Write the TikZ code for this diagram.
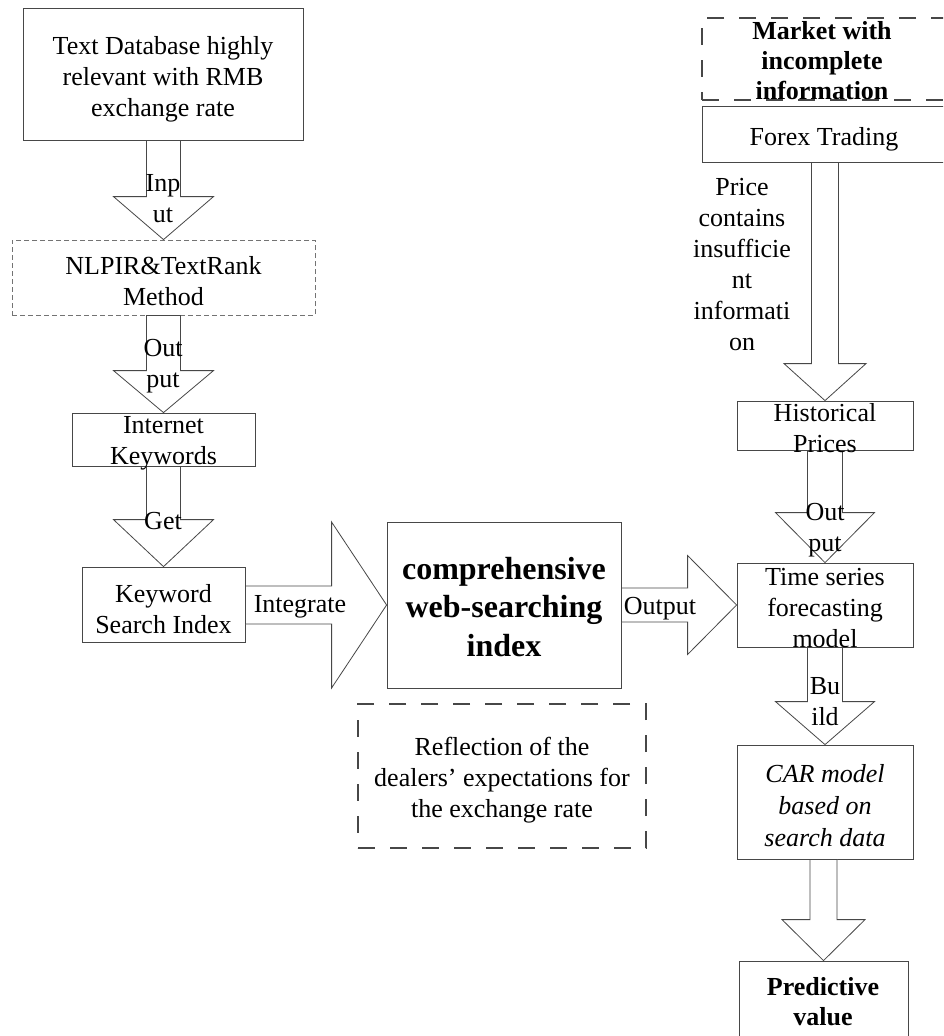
\documentclass[tikz,border=0pt]{standalone}
\usepackage{fontspec}
\setmainfont{Liberation Serif}
\usetikzlibrary{calc}
\tikzset{
  boxn/.style={draw=black!72, line width=0.8pt, inner sep=0pt, rectangle},
  thindash/.style={draw=black!55, line width=0.8pt, dash pattern=on 5pt off 3pt, inner sep=0pt, rectangle},
  thickdash/.style={draw=black!72, line width=2.6pt, dash pattern=on 17pt off 15pt, inner sep=0pt, rectangle},
  txt/.style={align=center, inner sep=0pt, font=\fontsize{26}{31}\selectfont},
  txtb/.style={align=center, inner sep=0pt, font=\fontsize{26}{30}\selectfont\bfseries},
  txtbig/.style={align=center, inner sep=0pt, font=\fontsize{32}{38.5}\selectfont\bfseries},
  txti/.style={align=center, inner sep=0pt, font=\fontsize{26}{32}\selectfont\itshape},
  blk/.style={draw=black!72, line width=0.8pt, fill=white, line join=miter},
}
% down block arrow: #1 source node, #2 target node, #3 shaft half width, #4 head half width, #5 head length
\newcommand\dnarr[5]{%
  \draw[blk] let \p1=(#1.south), \p2=(#2.north) in
    (\x2-#3pt,\y1) -- (\x2-#3pt,\y2+#5pt) -- (\x2-#4pt,\y2+#5pt) -- (\x2,\y2)
    -- (\x2+#4pt,\y2+#5pt) -- (\x2+#3pt,\y2+#5pt) -- (\x2+#3pt,\y1) -- cycle;}
% right block arrow
\newcommand\rtarr[5]{%
  \draw[blk] let \p1=(#1.east), \p2=(#2.west) in
    (\x1,\y2+#3pt) -- (\x2-#5pt,\y2+#3pt) -- (\x2-#5pt,\y2+#4pt) -- (\x2,\y2)
    -- (\x2-#5pt,\y2-#4pt) -- (\x2-#5pt,\y2-#3pt) -- (\x1,\y2-#3pt) -- cycle;}
\begin{document}
\begin{tikzpicture}[x=1pt, y=-1pt]
\useasboundingbox (0,0) rectangle (943,1036);
\clip (0,0) rectangle (943,1036);
\fill[white] (0,0) rectangle (943,1036);

% ---- left column boxes
\node[boxn, minimum width=280pt, minimum height=132pt] (db) at (163,74) {};
\node[thindash, minimum width=303pt, minimum height=75pt] (nlp) at (163.5,277.5) {};
\node[boxn, minimum width=183pt, minimum height=53pt] (ik) at (163.5,439.5) {};
\node[boxn, minimum width=163pt, minimum height=75pt] (ksi) at (163.5,604.5) {};

% ---- centre
\node[boxn, minimum width=234pt, minimum height=166pt] (cwi) at (504,605) {};
\node[thickdash, minimum width=288pt, minimum height=144pt] (refl) at (502,776) {};

% ---- right column
\node[thickdash, minimum width=258pt, minimum height=82pt] (mkt) at (831,59) {};
\node[boxn, minimum width=258pt, minimum height=56pt] (fx) at (831,134) {};
\node[boxn, minimum width=176pt, minimum height=49pt] (hp) at (825,425.5) {};
\node[boxn, minimum width=176pt, minimum height=84pt] (ts) at (825,605) {};
\node[boxn, minimum width=176pt, minimum height=114pt] (car) at (825,802) {};
\node[boxn, minimum width=169pt, minimum height=89pt] (pv) at (823.5,1005.5) {};

% ---- block arrows
\dnarr{db}{nlp}{17}{50}{43}
\dnarr{nlp}{ik}{17}{50}{42}
\dnarr{ik}{ksi}{17}{50}{47}
\rtarr{ksi}{cwi}{19}{83}{55}
\rtarr{cwi}{ts}{17}{49.5}{49}
\dnarr{fx}{hp}{13.5}{41}{37}
\dnarr{hp}{ts}{17.5}{49.5}{50}
\dnarr{ts}{car}{17.5}{49.5}{43}
\dnarr{car}{pv}{13.5}{41.5}{41}

% ---- texts
\node[txt] (dbt) at (163,79) {Text Database highly\\relevant with RMB\\exchange rate};
\node[txt] (inpt) at (163,199) {Inp\\ut};
\node[txt] (nlpt) at (163.5,281) {NLPIR\&TextRank\\Method};
\node[txt] (out1) at (163,366) {Out\\put};
\node[txt] (ikt) at (163.5,443) {Internet\\Keywords};
\node[txt] (gett) at (163,521) {Get};
\node[txt] (ksit) at (163.5,609) {Keyword\\Search Index};
\node[txt] (integ) at (300,607) {Integrate};
\node[txtbig] (cwit) at (504,607) {comprehensive\\web-searching\\index};
\node[txt] (outp) at (660,609) {Output};
\node[txt] (reflt) at (502,780) {Reflection of the\\dealers’ expectations for\\the exchange rate};
\node[txtb] (mktt) at (822,61) {Market with\\incomplete\\information};
\node[txt] (fxt) at (824,139) {Forex Trading};
\node[txt] (price) at (742,265) {Price\\contains\\insufficie\\nt\\informati\\on};
\node[txt] (hpt) at (825,428) {Historical\\Prices};
\node[txt] (out2) at (825,530) {Out\\put};
\node[txt] (tst) at (825,608) {Time series\\forecasting\\model};
\node[txt] (bld) at (825,702) {Bu\\ild};
\node[txti] (cart) at (825,806) {CAR model\\based on\\search data};
\node[txtb] (pvt) at (823,1002) {Predictive\\value};
\end{tikzpicture}
\end{document}
